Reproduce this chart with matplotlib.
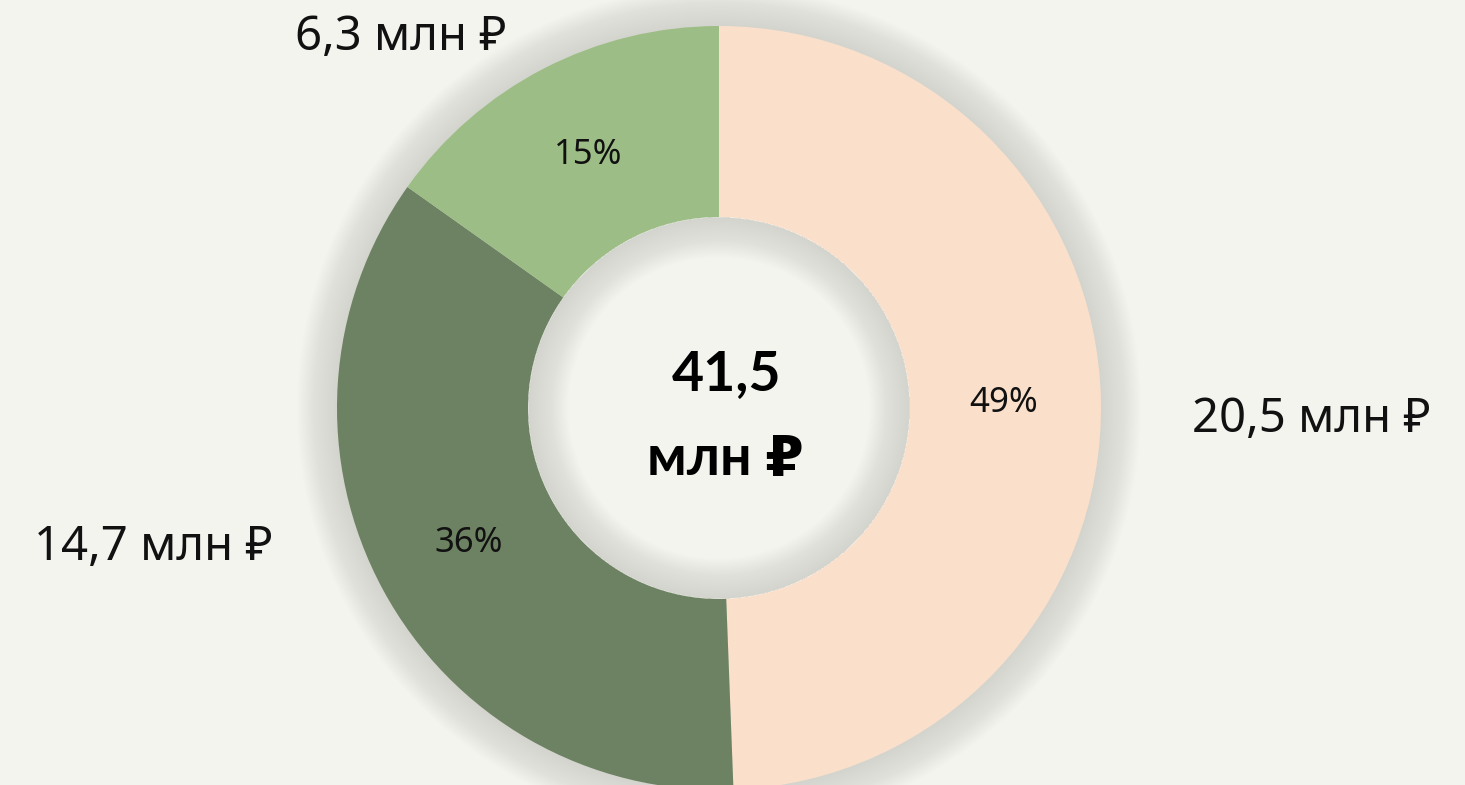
import numpy as np
import matplotlib.pyplot as plt
from matplotlib.patches import Circle, Wedge

plt.rcParams['font.family'] = ['Noto Sans', 'DejaVu Sans']

values = [20.5, 14.7, 6.3]
value_labels = ['20,5 млн ₽', '14,7 млн ₽', '6,3 млн ₽']
pct_labels = ['49%', '36%', '15%']
colors = ['#fadfcb', '#6d8262', '#9dbd86']
total_lines = ['41,5', 'млн ₽']

bg = '#f3f4ee'
cx, cy = 719, 377
R = 382
ring = 192

fig = plt.figure(figsize=(14.65, 7.85), dpi=100, facecolor=bg)
ax = fig.add_axes([0, 0, 1, 1])
ax.set_facecolor(bg)

# soft shadow outside the ring and inside the hole
n = 22
for k in range(n):
    ax.add_patch(Circle((cx, cy), R + 2 + k * 1.8, color='#8a8c84', alpha=0.010, lw=0, zorder=1))
ax.add_patch(Circle((cx, cy), R - ring + 1, color=bg, lw=0, zorder=3))
for k in range(n):
    ax.add_patch(Wedge((cx, cy), R - ring + 0.5, 0, 360, width=2 + k * 1.8,
                       color='#8a8c84', alpha=0.010, lw=0, zorder=4))

wedges, _ = ax.pie(values, colors=colors, startangle=90, counterclock=False,
                   center=(cx, cy), radius=R,
                   wedgeprops=dict(width=ring, linewidth=0))
for w in wedges:
    w.set_zorder(2)

for w, t in zip(wedges, pct_labels):
    mid = np.deg2rad((w.theta1 + w.theta2) / 2)
    r = 0.745 * R
    ax.text(cx + r * np.cos(mid), cy + r * np.sin(mid), t, ha='center', va='center',
            fontsize=25, color='#111111', zorder=5)

ax.text(1311, 365, value_labels[0], ha='center', va='center', fontsize=34, color='#111111')
ax.text(153, 237, value_labels[1], ha='center', va='center', fontsize=34, color='#111111')
ax.text(401, 747, value_labels[2], ha='center', va='center', fontsize=34, color='#111111')

bold = dict(ha='center', va='center', fontsize=40, fontweight='bold',
            family=['Lato', 'DejaVu Sans'], color='#000000', zorder=6)
ax.text(cx + 8, 411, total_lines[0], **bold)
ax.text(cx + 6, 326, total_lines[1], **bold)

ax.set_aspect('equal')
ax.set_xlim(0, 1465)
ax.set_ylim(0, 785)
ax.axis('off')

fig.savefig('out.png', dpi=100, facecolor=bg)
